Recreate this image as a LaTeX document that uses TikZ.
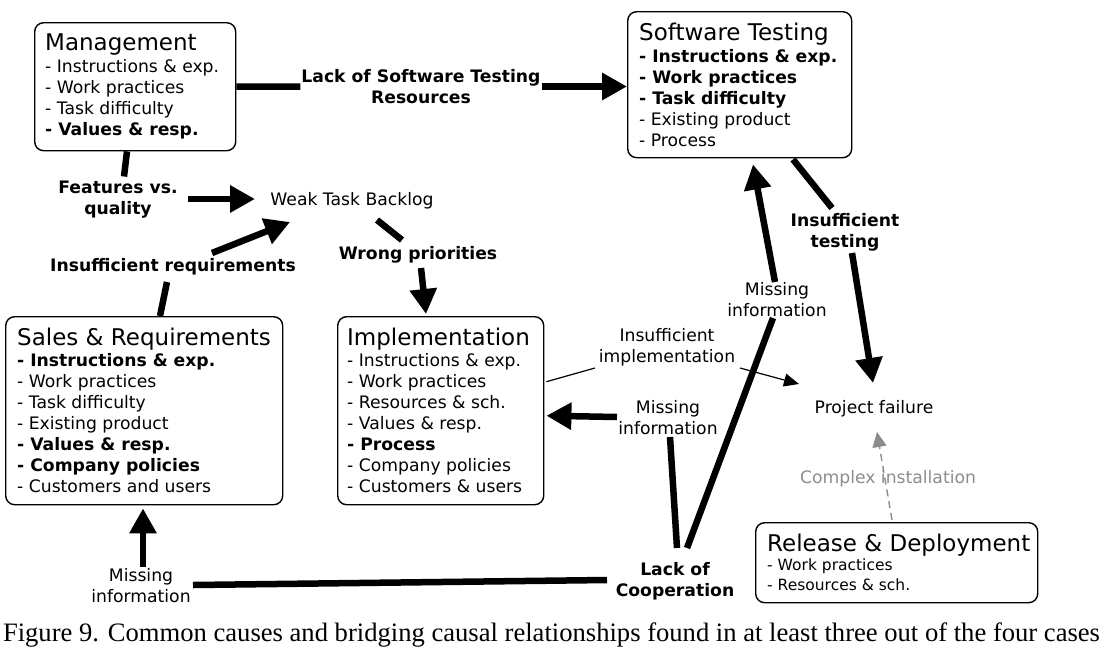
\documentclass[tikz,border=0pt]{standalone}
\usepackage{fontspec}
\setmainfont{DejaVu Sans}
\newfontfamily\capfont{Liberation Serif}
\usetikzlibrary{arrows.meta,calc}
\definecolor{greytxt}{HTML}{8C8C8C}
\begin{document}
\begin{tikzpicture}[x=1pt,y=-1pt,
  box/.style={draw,rounded corners=9pt,line width=1.4pt,anchor=north west,inner sep=0pt},
  boxtext/.style={anchor=base west,align=left,inner sep=0pt,font=\fontsize{17.2}{21}\selectfont},
  ttl/.style={font=\fontsize{23}{21}\selectfont},
  lbl/.style={align=center,inner sep=1pt,font=\fontsize{17.2}{21}\selectfont},
  blbl/.style={lbl,font=\fontsize{17.2}{21}\selectfont\bfseries},
  bigline/.style={line width=6.5pt},
  bigarrow/.style={line width=6.5pt,-{Triangle[length=25pt,width=26pt]}},
  thinline/.style={line width=1.2pt},
  thinarrow/.style={line width=1.2pt,-{Triangle[length=15pt,width=13pt]}},
  dasharrow/.style={draw=greytxt,line width=1.4pt,dash pattern=on 7pt off 5pt,-{Triangle[length=15pt,width=14pt]}}
]
\useasboundingbox (0,0) rectangle (1103,654);

% boxes
\node[box,minimum width=201pt,minimum height=128pt] (mgmt) at (34,22) {};
\node[box,minimum width=224pt,minimum height=146pt] (swt) at (627,11) {};
\node[box,minimum width=277pt,minimum height=188pt] (sales) at (5,316) {};
\node[box,minimum width=206pt,minimum height=188pt] (impl) at (337,316) {};
\node[box,minimum width=282pt,minimum height=80pt] (rel) at (755,522) {};

% box texts (anchored at the baseline of their last line)
\node[boxtext] (mgmtT) at (45,135) {{\fontsize{23}{21}\selectfont Management}\\[1pt]
 - Instructions \& exp.\\ - Work practices\\ - Task difficulty\\ \textbf{- Values \& resp.}};
\node[boxtext] (swtT) at (639,146) {{\fontsize{23}{21}\selectfont Software Testing}\\[1pt]
 \textbf{- Instructions \& exp.}\\ \textbf{- Work practices}\\ \textbf{- Task difficulty}\\ - Existing product\\ - Process};
\node[boxtext] (salesT) at (17,492) {{\fontsize{23}{21}\selectfont Sales \& Requirements}\\
 \textbf{- Instructions \& exp.}\\ - Work practices\\ - Task difficulty\\ - Existing product\\ \textbf{- Values \& resp.}\\ \textbf{- Company policies}\\ - Customers and users};
\node[boxtext] (implT) at (347,492) {{\fontsize{23}{21}\selectfont Implementation}\\
 - Instructions \& exp.\\ - Work practices\\ - Resources \& sch.\\ - Values \& resp.\\ \textbf{- Process}\\ - Company policies\\ - Customers \& users};
\node[boxtext,font=\fontsize{15.5}{20}\selectfont] (relT) at (767,590) {{\fontsize{23}{20}\selectfont Release \& Deployment}\\[-1pt]
 - Work practices\\ - Resources \& sch.};

% labels
\node[blbl] (lackST) at (421,86.5) {Lack of Software Testing\\Resources};
\node[blbl] (feat) at (118,199.5) {Features vs.\\quality};
\node[lbl] (wtb) at (352,201) {Weak Task Backlog};
\node[blbl] (insreq) at (173,267) {Insufficient requirements};
\node[blbl] (wrong) at (418,255) {Wrong priorities};
\node[lbl] (misS) at (141,585.5) {Missing\\information};
\node[blbl] (lackC) at (675,581.5) {Lack of\\Cooperation};
\node[lbl] (misI) at (668,418) {Missing\\information};
\node[lbl] (misT) at (777,299.5) {Missing\\information};
\node[blbl] (instest) at (845,232) {Insufficient\\testing};
\node[lbl] (insimp) at (667,347.5) {Insufficient\\implementation};
\node[lbl] (pf) at (874,409) {Project failure};
\node[lbl,text=greytxt] (cplx) at (888,479) {Complex installation};
\node[font=\capfont\fontsize{26.6}{28}\selectfont,anchor=base,inner sep=0pt] (cap) at (551.5,641)
 {Figure 9. Common causes and bridging causal relationships found in at least three out of the four cases};

% connectors
\draw[bigline] (mgmt.east) -- (lackST.west);
\draw[bigarrow] (lackST.east) -- (lackST.east -| swt.west);
\draw[bigline] ($(mgmt.south west)+(93,0)$) -- ($(feat.center)+(6,-23)$);
\draw[bigarrow] ($(feat.center)+(70,-0.5)$) -- ($(wtb.center)+(-97,-2)$);
\draw[bigline] ($(sales.north west)+(155,0)$) -- ($(insreq.center)+(-6,15)$);
\draw[bigarrow] ($(insreq.center)+(39,-14)$) -- ($(wtb.center)+(-62,21)$);
\draw[bigline] ($(wtb.center)+(25,19)$) -- ($(wrong.center)+(-16,-15)$);
\draw[bigarrow] ($(wrong.center)+(3,13)$) -- ($(impl.north west)+(89,-2)$);
\draw[bigarrow] ($(misS.center)+(2,-18.5)$) -- ($(sales.south west)+(138,3)$);
\draw[bigline] ($(lackC.center)+(-68,-1.5)$) -- ($(misS.center)+(52,-0.5)$);
\draw[bigline] ($(lackC.center)+(2,-33.5)$) -- ($(misI.center)+(2,19)$);
\draw[bigarrow] ($(misI.center)+(-51,-1)$) -- ($(impl.east)+(2,5)$);
\draw[bigline] ($(lackC.center)+(12,-33.5)$) -- ($(misT.center)+(-4,18.5)$);
\draw[bigarrow] ($(misT.center)+(-2,-17.5)$) -- ($(swt.south west)+(126,6)$);
\draw[bigline] ($(swt.south west)+(166,1)$) -- ($(instest.center)+(-13,-24)$);
\draw[bigarrow] ($(instest.center)+(7,21)$) -- ($(pf.center)+(-1,-26)$);
\draw[thinline] ($(impl.east)+(2,-29)$) -- ($(insimp.center)+(-72,20.5)$);
\draw[thinarrow] ($(insimp.center)+(73,20.5)$) -- ($(pf.center)+(-75,-25)$);
\draw[dasharrow] ($(rel.north west)+(137,-2)$) -- ($(pf.center)+(3,23)$);
\end{tikzpicture}
\end{document}
